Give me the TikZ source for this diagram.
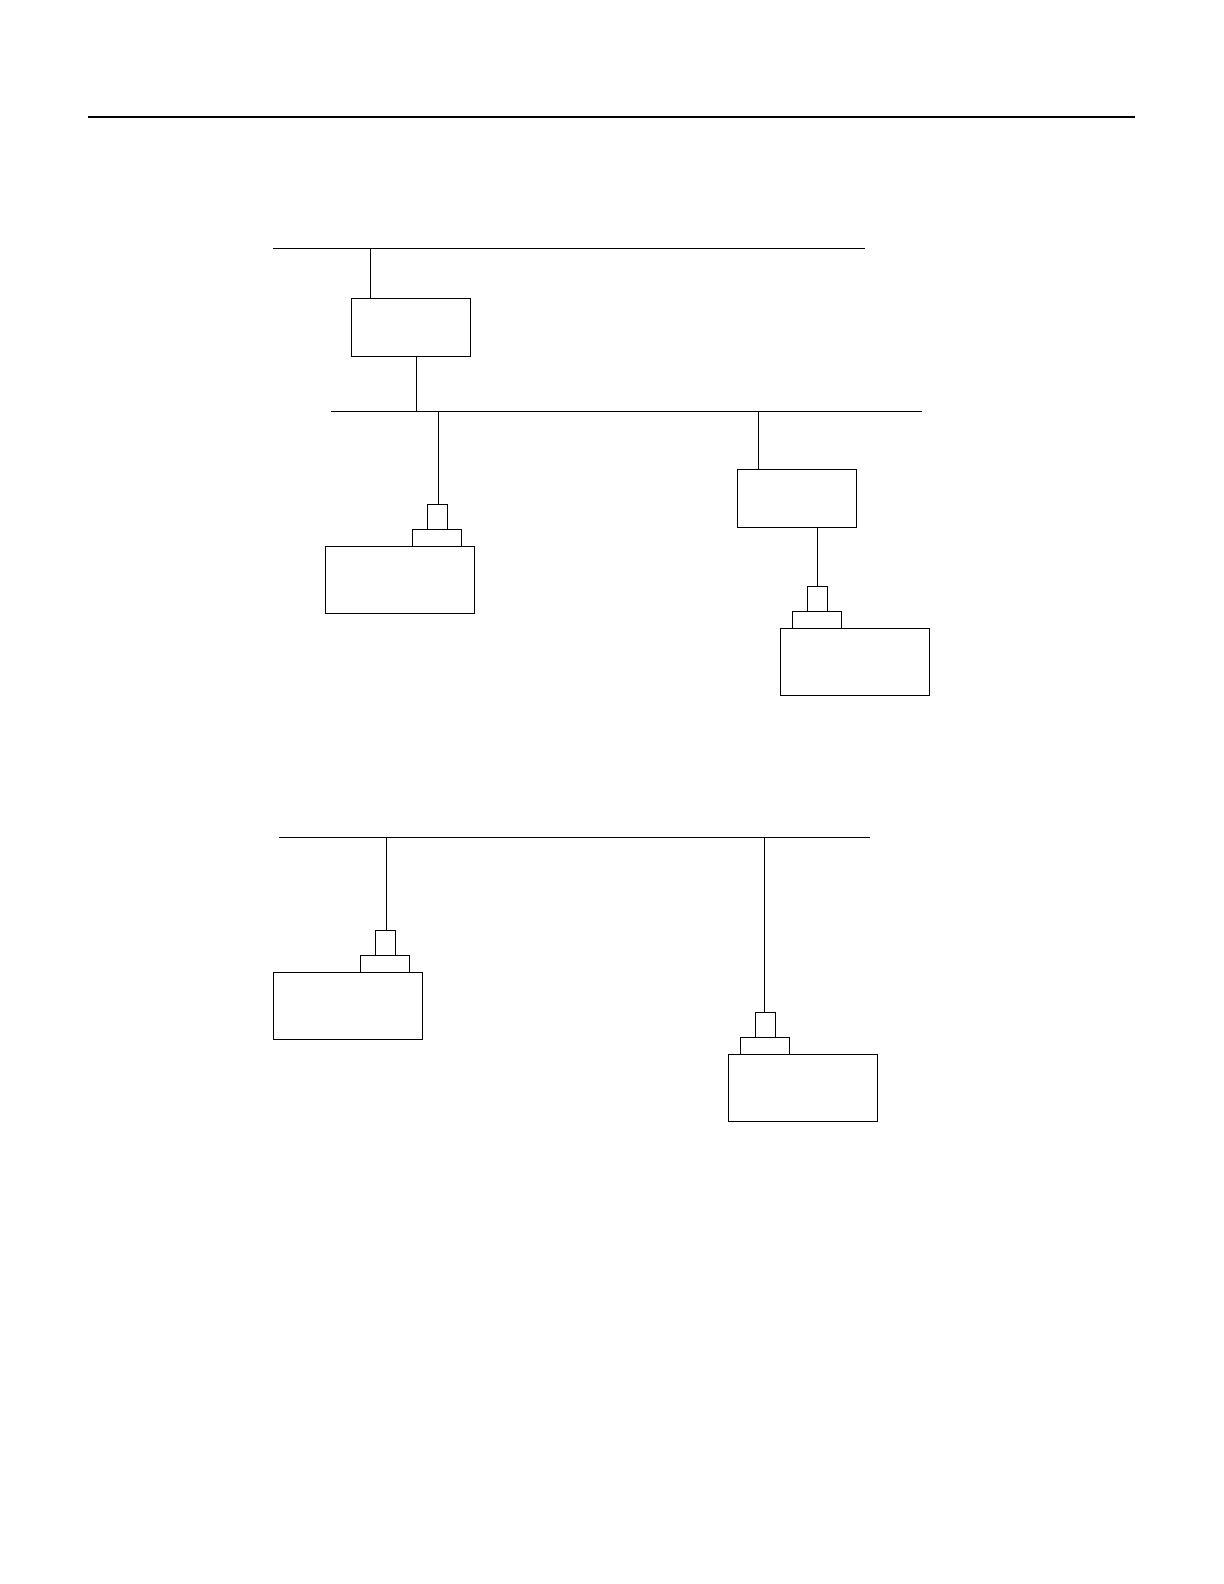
\documentclass[tikz,border=0pt]{standalone}
\usepackage{tikz}
\usetikzlibrary{positioning}

\begin{document}
\begin{tikzpicture}[
  x=0.5pt, y=-0.5pt,
  every node/.style = {rectangle, draw, line width=0.5pt, inner sep=0pt, outer sep=0pt},
  gwbox/.style      = {minimum width=59.5pt, minimum height=29pt},
  devbox/.style     = {minimum width=74.5pt, minimum height=33.5pt},
  basebox/.style    = {minimum width=24.5pt, minimum height=8.5pt, anchor=south},
  plugbox/.style    = {minimum width=10pt, minimum height=12.5pt},
  bus/.style        = {line width=0.5pt},
  link/.style       = {line width=0.5pt},
]
  \useasboundingbox (0,0) rectangle (1224,1584);

  % Header rule
  \coordinate (r1) at (88,117);
  \coordinate (r2) at (1135,117);
  \draw[line width=1pt] (r1) -- (r2);

  % Upper network
  \coordinate (busAl) at (273,248.3);
  \coordinate (busAr) at (864.5,248.3);
  \draw[bus] (busAl) -- (busAr);

  \node[gwbox] (gw1) at (411,327.7) {};

  \coordinate (busBl) at (331.3,411.3);
  \coordinate (busBr) at (922,411.3);
  \draw[bus] (busBl) -- (busBr);

  \node[gwbox] (gw2) at (797,498.2) {};

  % Devices on upper network
  \node[devbox] (dev1) at (399.8,580.2) {};
  \node[basebox] (base1) at (437,546.3) {};
  \node[plugbox, above=0pt of base1] (plug1) {};

  \node[devbox] (dev2) at (855,661.7) {};
  \node[basebox] (base2) at (817,628) {};
  \node[plugbox, above=0pt of base2] (plug2) {};

  % Links
  \coordinate (tA) at (370.3,248.3);
  \draw[link] (tA) -- (tA |- gw1.north);
  \coordinate (tB) at (416.3,411.3);
  \draw[link] (tB |- gw1.south) -- (tB);
  \coordinate (tC) at (438.3,411.3);
  \draw[link] (tC) -- (tC |- plug1.north);
  \coordinate (tD) at (758.3,411.3);
  \draw[link] (tD) -- (tD |- gw2.north);
  \draw[link] (gw2.south -| plug2.north) -- (plug2.north);

  % Lower network
  \coordinate (busCl) at (279.3,837.3);
  \coordinate (busCr) at (870,837.3);
  \draw[bus] (busCl) -- (busCr);

  \node[devbox] (dev3) at (347.8,1005.7) {};
  \node[basebox] (base3) at (385,972.3) {};
  \node[plugbox, above=0pt of base3] (plug3) {};

  \node[devbox] (dev4) at (803,1088.3) {};
  \node[basebox] (base4) at (765,1054.3) {};
  \node[plugbox, above=0pt of base4] (plug4) {};

  \coordinate (tE) at (386.3,837.3);
  \draw[link] (tE) -- (tE |- plug3.north);
  \coordinate (tF) at (764.3,837.3);
  \draw[link] (tF) -- (tF |- plug4.north);
\end{tikzpicture}
\end{document}
